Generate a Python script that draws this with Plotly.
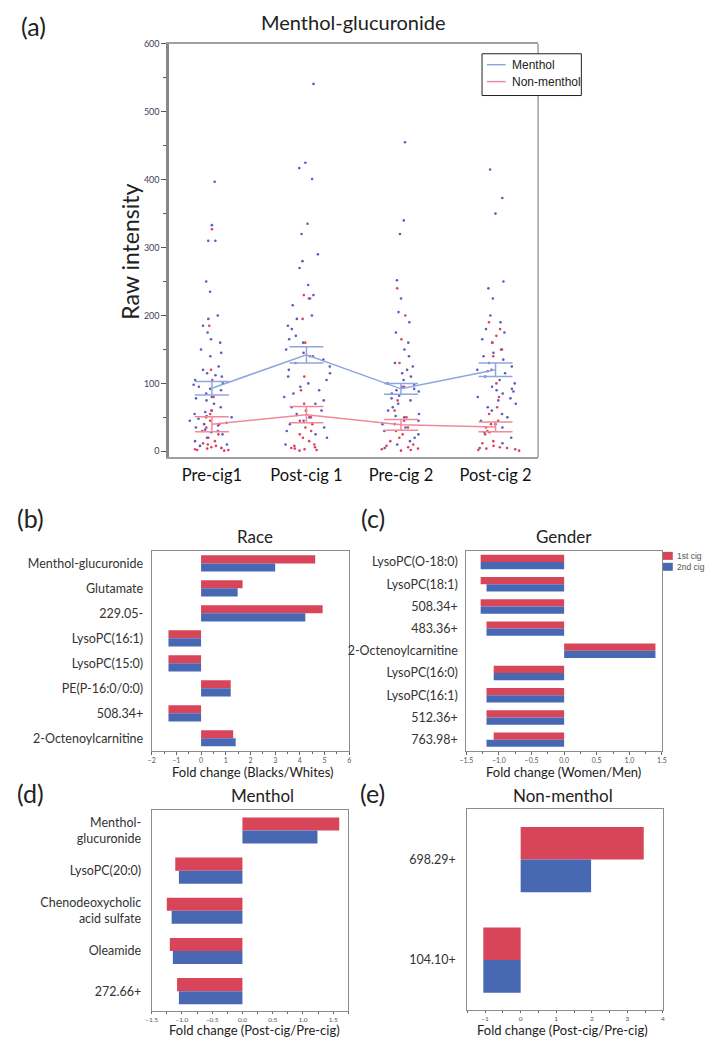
import plotly.graph_objects as go

W, H = 716, 1045
OFF = 8  # the page body adds an 8px margin
FONT = "Lato, 'Open Sans', sans-serif"
RED = "#d84458"
BLUE = "#4868b4"

# ---- panel (a): menthol-glucuronide raw intensity ----
visits = ["Pre-cig1", "Post-cig 1", "Pre-cig 2", "Post-cig 2"]

menthol_pts = {
    "Pre-cig1": [397, 333, 310, 310, 250, 235, 200, 195, 185, 175, 165, 160, 150, 145, 140,
                 125, 120, 115, 112, 110, 105, 100, 98, 95, 92, 90, 85, 80, 78, 75, 70, 65,
                 60, 58, 55, 52, 50, 48, 45, 42, 40, 38, 35, 32, 30, 28, 25, 20, 15, 10, 8, 5],
    "Post-cig 1": [541, 425, 417, 401, 335, 320, 290, 280, 270, 245, 230, 225, 215, 200, 195,
                   185, 180, 170, 165, 160, 150, 145, 140, 135, 130, 125, 120, 115, 110, 105,
                   100, 95, 90, 85, 80, 75, 70, 65, 60, 55, 50, 45, 40, 35, 30, 25, 20, 10],
    "Pre-cig 2": [455, 340, 320, 252, 225, 205, 190, 175, 160, 150, 140, 130, 125, 120, 115,
                  110, 105, 100, 98, 95, 92, 90, 88, 85, 82, 78, 75, 70, 65, 60, 55, 52, 50,
                  45, 40, 35, 30, 25, 20, 15, 10, 5],
    "Post-cig 2": [415, 373, 350, 250, 240, 225, 200, 190, 180, 175, 165, 160, 150, 145, 140,
                   135, 130, 125, 120, 118, 115, 110, 105, 100, 95, 92, 90, 88, 85, 80, 78, 75,
                   70, 65, 60, 55, 50, 45, 40, 35, 28, 20, 12, 5],
}
nonmenthol_pts = {
    "Pre-cig1": [327, 185, 120, 105, 80, 60, 55, 50, 45, 40, 35, 30, 25, 20, 15, 12, 10, 8, 6,
                 5, 4, 3, 2, 2, 1],
    "Post-cig 1": [230, 225, 195, 160, 140, 110, 90, 70, 60, 50, 45, 40, 35, 30, 25, 20, 15,
                   10, 8, 6, 5, 4, 3, 2, 1],
    "Pre-cig 2": [240, 200, 165, 130, 95, 75, 60, 50, 45, 40, 35, 30, 25, 20, 15, 10, 8, 6, 4,
                  3, 2, 1],
    "Post-cig 2": [190, 180, 170, 160, 150, 140, 120, 100, 80, 65, 55, 45, 40, 35, 30, 28, 25,
                   15, 12, 8, 6, 5, 4, 3, 2, 1],
}
menthol_mean = [93, 142, 92, 120]
menthol_se = [10, 12, 8, 10]
nonmenthol_mean = [40, 54, 39, 36]
nonmenthol_se = [11, 12, 8, 7]

# ---- panels (b)-(e): fold changes, 1st cig / 2nd cig ----
race_labels = ["Menthol-glucuronide", "Glutamate", "229.05-", "LysoPC(16:1)", "LysoPC(15:0)",
               "PE(P-16:0/0:0)", "508.34+", "2-Octenoylcarnitine"]
race_1st = [4.62, 1.68, 4.92, -1.32, -1.32, 1.2, -1.32, 1.3]
race_2nd = [3.0, 1.48, 4.22, -1.32, -1.32, 1.2, -1.32, 1.4]

gender_labels = ["LysoPC(O-18:0)", "LysoPC(18:1)", "508.34+", "483.36+", "2-Octenoylcarnitine",
                 "LysoPC(16:0)", "LysoPC(16:1)", "512.36+", "763.98+"]
gender_1st = [-1.28, -1.28, -1.28, -1.19, 1.4, -1.08, -1.19, -1.19, -1.08]
gender_2nd = [-1.28, -1.19, -1.28, -1.19, 1.4, -1.08, -1.19, -1.19, -1.19]

menthol_labels = ["Menthol-<br>glucuronide", "LysoPC(20:0)", "Chenodeoxycholic<br>acid sulfate",
                  "Oleamide", "272.66+"]
menthol_1st = [1.6, -1.11, -1.25, -1.2, -1.08]
menthol_2nd = [1.24, -1.05, -1.17, -1.15, -1.05]

nonmenthol_labels = ["698.29+", "104.10+"]
nonmenthol_1st = [3.46, -1.05]
nonmenthol_2nd = [1.98, -1.05]


def px(x):
    return (x - OFF) / W


def py(y):
    return 1 - (y - OFF) / H


fig = go.Figure()

# jittered raw points (box traces with the box itself hidden)
for pts, col in [(menthol_pts, "#5a5cc0"), (nonmenthol_pts, "#e0405e")]:
    xs, ys = [], []
    for v in visits:
        xs += [v] * len(pts[v])
        ys += pts[v]
    fig.add_trace(go.Box(
        x=xs, y=ys, boxpoints="all", jitter=1, pointpos=0, width=0.5,
        line=dict(width=0), fillcolor="rgba(0,0,0,0)",
        marker=dict(size=2.6, color=col), showlegend=False, xaxis="x", yaxis="y",
    ))

# mean +/- SE lines
for m, se, col in [(menthol_mean, menthol_se, "#8ea6e0"),
                   (nonmenthol_mean, nonmenthol_se, "#f08a98")]:
    fig.add_trace(go.Scatter(
        x=visits, y=m, mode="lines", line=dict(color=col, width=1.5),
        error_y=dict(type="data", array=se, color=col, thickness=1.5, width=17),
        xaxis="x", yaxis="y", showlegend=False,
    ))

# fold change bars
panels = [
    ("x2", "y2", race_labels, race_1st, race_2nd),
    ("x3", "y3", gender_labels, gender_1st, gender_2nd),
    ("x4", "y4", menthol_labels, menthol_1st, menthol_2nd),
    ("x5", "y5", nonmenthol_labels, nonmenthol_1st, nonmenthol_2nd),
]
for xa, ya, labels, first, second in panels:
    fig.add_trace(go.Bar(x=first, y=labels, orientation="h", name="1st cig",
                         marker=dict(color=RED, line=dict(width=0)),
                         xaxis=xa, yaxis=ya, showlegend=False))
    fig.add_trace(go.Bar(x=second, y=labels, orientation="h", name="2nd cig",
                         marker=dict(color=BLUE, line=dict(width=0)),
                         xaxis=xa, yaxis=ya, showlegend=False))

frame = dict(showline=True, mirror=True, linecolor="#8c8c8c", linewidth=1,
             showgrid=False, zeroline=False)
xbar = dict(frame, ticks="outside", ticklen=3, tickcolor="#666", tickfont=dict(size=7, color="#555"))
ybar = dict(frame, type="category", autorange="reversed", ticks="",
            tickfont=dict(size=12.5, color="#333"))

fig.update_layout(
    width=W, height=H,
    margin=dict(l=0, r=0, t=0, b=0),
    paper_bgcolor="white", plot_bgcolor="white",
    font=dict(family=FONT, color="#222"),
    barmode="group", bargap=0.35, bargroupgap=0, boxmode="overlay",
    showlegend=False,
    xaxis=dict(domain=[px(165), px(540)], type="category", categoryorder="array",
               categoryarray=visits, range=[-0.45, 3.45], showline=True, mirror=True,
               linecolor="#a0a0a0", linewidth=1.5, showgrid=False, zeroline=False, ticks="",
               tickfont=dict(size=16.5, color="#111"), ticklabelstandoff=2),
    yaxis=dict(domain=[py(454), py(38)], range=[-9, 600], dtick=100, showline=True,
               linecolor="#888", linewidth=3, showgrid=False, zeroline=False, ticks="outside",
               ticklen=5, tickcolor="#555", tickfont=dict(size=9, color="#4a3a5c"),
               minor=dict(ticks="outside", ticklen=3, dtick=50, tickcolor="#555")),
    xaxis2=dict(xbar, domain=[px(147), px(348)], range=[-2, 6], dtick=1,
                minor=dict(ticks="outside", ticklen=2, dtick=0.5, tickcolor="#666"), anchor="y2"),
    yaxis2=dict(ybar, domain=[py(749), py(548)], anchor="x2", ticklabelstandoff=5),
    xaxis3=dict(xbar, domain=[px(467), px(666)], range=[-1.5, 1.5], dtick=0.5, tickformat=".1f",
                minor=dict(ticks="outside", ticklen=2, dtick=0.25, tickcolor="#666"), anchor="y3"),
    yaxis3=dict(ybar, domain=[py(749), py(548)], anchor="x3", ticklabelstandoff=5),
    xaxis4=dict(xbar, domain=[px(147), px(347)], range=[-1.5, 1.75], dtick=0.5, tickformat=".1f",
                ticklen=2, tickfont=dict(size=6.5, color="#555"),
                minor=dict(ticks="outside", ticklen=1.5, dtick=0.25, tickcolor="#666"), anchor="y4"),
    yaxis4=dict(ybar, domain=[py(1011), py(809)], anchor="x4", ticklabelstandoff=7),
    xaxis5=dict(xbar, domain=[px(468), px(667)], range=[-1.5, 4], dtick=1,
                ticklen=2, tickfont=dict(size=6.5, color="#555"),
                minor=dict(ticks="outside", ticklen=1.5, dtick=0.5, tickcolor="#666"), anchor="y5"),
    yaxis5=dict(ybar, domain=[py(1010), py(808)], anchor="x5", ticklabelstandoff=8),
)

# right side of the panel (a) frame, thinner than the left axis
fig.add_shape(type="line", xref="x domain", yref="y domain", x0=1, x1=1, y0=0, y1=1,
              line=dict(color="#a0a0a0", width=1.5))

# panel (a) legend box
fig.add_shape(type="rect", xref="paper", yref="paper", x0=px(483), x1=px(584),
              y0=py(90), y1=py(48), line=dict(color="#222", width=1), fillcolor="white")
for name, col, y in [("Menthol", "#8ea6e0", 59), ("Non-menthol", "#f08a98", 76)]:
    fig.add_shape(type="line", xref="paper", yref="paper", x0=px(488), x1=px(507),
                  y0=py(y), y1=py(y), line=dict(color=col, width=1.5))
    fig.add_annotation(text=name, x=px(511), y=py(y), xref="paper", yref="paper",
                       xanchor="left", yanchor="middle", showarrow=False,
                       font=dict(size=12, color="#222", family="Liberation Sans, Arial"))

# panel (c) legend
for name, col, y in [("1st cig", RED, 553), ("2nd cig", BLUE, 564)]:
    fig.add_shape(type="rect", xref="paper", yref="paper", x0=px(667), x1=px(677),
                  y0=py(y + 4), y1=py(y - 4), line=dict(width=0), fillcolor=col)
    fig.add_annotation(text=name, x=px(679), y=py(y), xref="paper", yref="paper",
                       xanchor="left", yanchor="middle", showarrow=False,
                       font=dict(size=8.5, color="#555", family="Liberation Sans, Arial"))

texts = [
    ("(a)", 27, 20, 25, 0), ("Menthol-glucuronide", 352, 16, 20, 0),
    ("Raw intensity", 125, 247, 23, -90),
    ("(b)", 24, 515, 25, 0), ("Race", 252, 534, 17, 0),
    ("Fold change (Blacks/Whites)", 250, 770, 13, 0),
    ("(c)", 372, 515, 25, 0), ("Gender", 566, 534, 17, 0),
    ("Fold change (Women/Men)", 566, 770, 13, 0),
    ("(d)", 24, 791, 25, 0), ("Menthol", 260, 794, 17, 0),
    ("Fold change (Post-cig/Pre-cig)", 252, 1030, 13, 0),
    ("(e)", 372, 791, 25, 0), ("Non-menthol", 565, 794, 17, 0),
    ("Fold change (Post-cig/Pre-cig)", 565, 1030, 13, 0),
]
for t, x, y, s, ang in texts:
    fig.add_annotation(text=t, x=px(x), y=py(y), xref="paper", yref="paper",
                       xanchor="center", yanchor="middle", showarrow=False,
                       textangle=ang, font=dict(size=s, color="#222"))

fig.write_html("out.html")
